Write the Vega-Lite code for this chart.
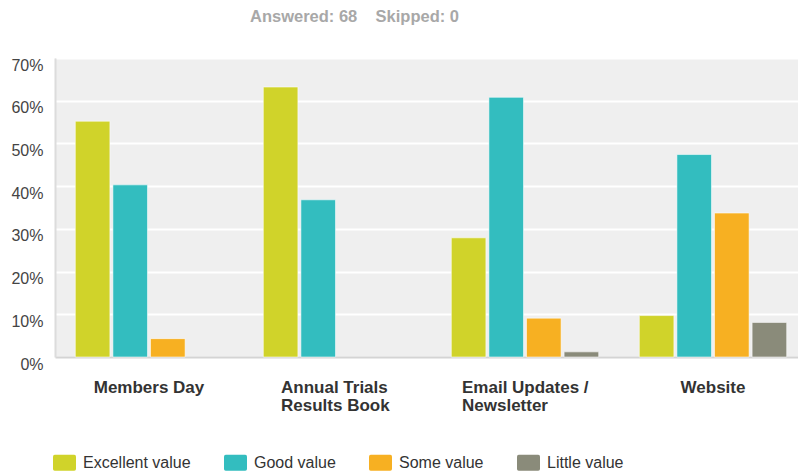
{
  "$schema": "https://vega.github.io/schema/vega-lite/v6.json",
  "width": 743,
  "height": 299,
  "autosize": {"type": "none"},
  "padding": {"left": 55, "top": 58, "right": 0, "bottom": 117},
  "background": "#ffffff",
  "title": {
    "text": "Answered: 68\u00a0\u00a0\u00a0\u00a0Skipped: 0",
    "font": "Liberation Sans",
    "fontSize": 16.5,
    "fontWeight": "bold",
    "color": "#a8a8a8",
    "anchor": "middle",
    "frame": "group",
    "dx": -72,
    "offset": 32
  },
  "data": {
    "values": [
      {"cat": "Members Day", "resp": "Excellent value", "pct": 55.2},
      {"cat": "Members Day", "resp": "Good value", "pct": 40.3},
      {"cat": "Members Day", "resp": "Some value", "pct": 4.3},
      {"cat": "Members Day", "resp": "Little value", "pct": 0},
      {"cat": "Annual Trials Results Book", "resp": "Excellent value", "pct": 63.2},
      {"cat": "Annual Trials Results Book", "resp": "Good value", "pct": 36.8},
      {"cat": "Annual Trials Results Book", "resp": "Some value", "pct": 0},
      {"cat": "Annual Trials Results Book", "resp": "Little value", "pct": 0},
      {"cat": "Email Updates / Newsletter", "resp": "Excellent value", "pct": 27.9},
      {"cat": "Email Updates / Newsletter", "resp": "Good value", "pct": 60.8},
      {"cat": "Email Updates / Newsletter", "resp": "Some value", "pct": 9.1},
      {"cat": "Email Updates / Newsletter", "resp": "Little value", "pct": 1.2},
      {"cat": "Website", "resp": "Excellent value", "pct": 9.7},
      {"cat": "Website", "resp": "Good value", "pct": 47.4},
      {"cat": "Website", "resp": "Some value", "pct": 33.7},
      {"cat": "Website", "resp": "Little value", "pct": 8.1}
    ]
  },
  "mark": {"type": "bar", "stroke": "#ffffff", "strokeWidth": 1},
  "encoding": {
    "x": {
      "field": "cat",
      "type": "nominal",
      "sort": ["Members Day", "Annual Trials Results Book", "Email Updates / Newsletter", "Website"],
      "scale": {"range": [0, 752], "paddingInner": 0, "paddingOuter": 0},
      "axis": {
        "title": null,
        "labelAngle": 0,
        "ticks": false,
        "tickSize": 0,
        "domain": true,
        "domainColor": "#d4d4d4",
        "domainWidth": 2,
        "grid": false,
        "labelFont": "Liberation Sans",
        "labelFontSize": 17,
        "labelFontWeight": "bold",
        "labelColor": "#333333",
        "labelBaseline": "top",
        "labelPadding": 22,
        "labelLineHeight": 18,
        "labelExpr": "datum.value == 'Annual Trials Results Book' ? ['Annual Trials', 'Results Book'] : datum.value == 'Email Updates / Newsletter' ? ['Email Updates /', 'Newsletter'] : datum.value",
        "labelAlign": {"condition": {"test": "datum.value == 'Annual Trials Results Book' || datum.value == 'Email Updates / Newsletter'", "value": "left"}, "value": "center"},
        "labelOffset": {"condition": [
          {"test": "datum.value == 'Annual Trials Results Book'", "value": -56},
          {"test": "datum.value == 'Email Updates / Newsletter'", "value": -63}
        ], "value": 0}
      }
    },
    "xOffset": {
      "field": "resp",
      "type": "nominal",
      "sort": ["Excellent value", "Good value", "Some value", "Little value"],
      "scale": {"paddingInner": 0.08, "paddingOuter": 0.54}
    },
    "y": {
      "field": "pct",
      "type": "quantitative",
      "scale": {"domain": [0, 70], "nice": false},
      "axis": {
        "title": null,
        "values": [0, 10, 20, 30, 40, 50, 60, 70],
        "labelExpr": "datum.value + '%'",
        "ticks": false,
        "tickSize": 0,
        "domain": true,
        "domainColor": "#dcdcdc",
        "domainWidth": 2,
        "grid": true,
        "gridColor": "#ffffff",
        "gridWidth": 2,
        "gridOpacity": 1,
        "labelFont": "Liberation Sans",
        "labelFontSize": 16,
        "labelColor": "#444444",
        "labelPadding": 12,
        "labelOffset": 7
      }
    },
    "strokeOpacity": {
      "condition": {"test": "datum.pct == 0", "value": 0},
      "value": 0.55
    },
    "color": {
      "field": "resp",
      "type": "nominal",
      "sort": ["Excellent value", "Good value", "Some value", "Little value"],
      "scale": {
        "domain": ["Excellent value", "Good value", "Some value", "Little value"],
        "range": ["#d0d32a", "#33bdbf", "#f7b022", "#8a8b7a"]
      },
      "legend": {
        "title": null,
        "orient": "none",
        "legendX": -2,
        "legendY": 393,
        "direction": "horizontal",
        "columns": 4,
        "padding": 0,
        "columnPadding": 33,
        "labelOffset": 7,
        "labelFont": "Liberation Sans",
        "labelFontSize": 16,
        "labelColor": "#333333",
        "symbolType": "M-1,-0.55 Q-1,-0.7 -0.85,-0.7 L0.85,-0.7 Q1,-0.7 1,-0.55 L1,0.55 Q1,0.7 0.85,0.7 L-0.85,0.7 Q-1,0.7 -1,0.55 Z",
        "symbolSize": 529,
        "symbolStrokeWidth": 0,
        "symbolOpacity": 1
      }
    }
  },
  "config": {
    "view": {"fill": "#efefef", "strokeWidth": 0},
    "axis": {"gridCap": "butt"}
  }
}
